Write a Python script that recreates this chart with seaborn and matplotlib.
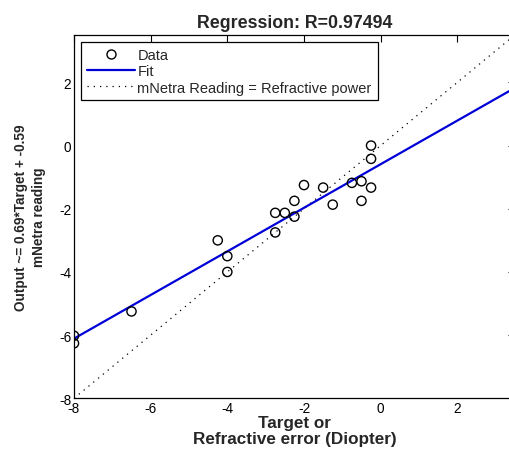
import numpy as np
import pandas as pd
import matplotlib
matplotlib.use("Agg")
import matplotlib.pyplot as plt
import seaborn as sns
from matplotlib.lines import Line2D

# ---- data ----
target = [-0.25, -0.25, -0.25, -0.5, -0.5, -0.75, -1.25, -1.5, -2.0, -2.25,
          -2.25, -2.5, -2.75, -2.75, -4.25, -4.0, -4.0, -6.5, -8.0, -8.0]
output = [0.0, -0.42, -1.33, -1.13, -1.75, -1.18, -1.87, -1.33, -1.25, -1.75,
          -2.25, -2.13, -2.13, -2.75, -3.0, -3.5, -4.0, -5.25, -6.02, -6.26]
fit_slope = 0.69
fit_intercept = -0.59
x_limits = [-8.0, 3.5]
y_limits = [-8.0, 3.5]
x_ticks = [-8, -6, -4, -2, 0, 2]
y_ticks = [-8, -6, -4, -2, 0, 2]
title = "Regression: R=0.97494"

sns.set_style("white")
plt.rcParams['font.family'] = ['Liberation Sans', 'DejaVu Sans']
plt.rcParams['axes.unicode_minus'] = False

df = pd.DataFrame({"Target": target, "Output": output})
line_x = np.array(x_limits)
fit_df = pd.DataFrame({"x": line_x, "y": fit_slope * line_x + fit_intercept})
id_df = pd.DataFrame({"x": line_x, "y": line_x})

fig = plt.figure(figsize=(5.10, 4.52), dpi=100)
ax = fig.add_axes([74 / 510, (452 - 399.3) / 452, (514.8 - 74) / 510, (399.3 - 36) / 452])

sns.lineplot(data=id_df, x="x", y="y", ax=ax, color="black", linestyle=(0, (1, 4)),
             linewidth=0.9, label="mNetra Reading = Refractive power", legend=False)
sns.lineplot(data=fit_df, x="x", y="y", ax=ax, color="#0000d8", linewidth=1.6,
             label="Fit", legend=False)
sns.scatterplot(data=df, x="Target", y="Output", ax=ax, marker="o", s=44,
                facecolor="none", edgecolor="black", linewidth=1.0, label="Data",
                legend=False, zorder=5)

ax.set_xlim(x_limits)
ax.set_ylim(y_limits)
ax.set_xticks(x_ticks)
ax.set_yticks(y_ticks)
ax.tick_params(direction="in", length=5, width=0.8, top=True, right=True,
               labelsize=9.8, pad=2, colors="black")
for s in ax.spines.values():
    s.set_color("black")
    s.set_linewidth(0.9)

ax.set_title(title, fontsize=12.8, fontweight="bold", pad=6)
ax.set_xlabel("Target or\nRefractive error (Diopter)", fontsize=12.3, fontweight="bold",
              labelpad=0, linespacing=1.08)
ax.set_ylabel("Output ~= 0.69*Target + -0.59\nmNetra reading", fontsize=9.8,
              fontweight="bold", labelpad=9, linespacing=1.45)

handles = [
    Line2D([], [], marker="o", linestyle="none", markerfacecolor="none",
           markeredgecolor="black", markersize=6.5, markeredgewidth=1.0),
    Line2D([], [], color="#0000d8", linewidth=1.6),
    Line2D([], [], color="black", linestyle=(0, (1, 4)), linewidth=0.9),
]
labels = ["Data", "Fit", "mNetra Reading = Refractive power"]
leg = ax.legend(handles, labels, loc="upper left", fontsize=10.5, frameon=True,
                fancybox=False, edgecolor="black", framealpha=1, borderaxespad=0.5,
                handlelength=3.3, handletextpad=0.15, labelspacing=0.15,
                borderpad=0.4)
leg.get_frame().set_linewidth(0.9)

fig.savefig("out.png", dpi=100)
